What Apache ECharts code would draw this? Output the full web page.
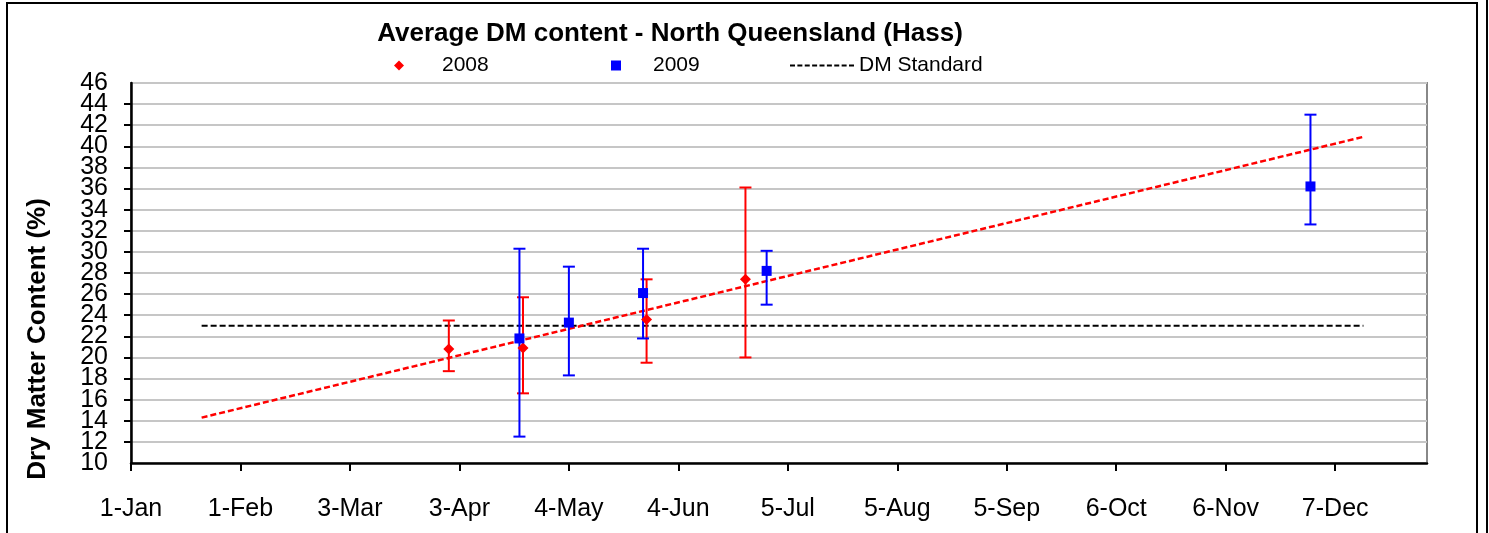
<!DOCTYPE html>
<html>
<head>
<meta charset="utf-8">
<title>Average DM content - North Queensland (Hass)</title>
<script src="https://cdn.jsdelivr.net/npm/echarts@6/dist/echarts.min.js"></script>
<style>
  html, body { margin: 0; padding: 0; background: #fff; }
  #chart { width: 1489px; height: 533px; }
</style>
</head>
<body>
<div id="chart"></div>
<script>
// day of year (2008, leap year) at which each tick label sits
const tickDays = [0, 31, 62, 93, 124, 155, 186, 217, 248, 279, 310, 341]
const tickLabels = ['1-Jan', '1-Feb', '3-Mar', '3-Apr', '4-May', '4-Jun', '5-Jul', '5-Aug', '5-Sep', '6-Oct', '6-Nov', '7-Dec']

// 2008 averages (day of year, DM %) with error bar ends
const days2008 = [90, 111, 146, 174]
const dm2008 = [20.8, 20.9, 23.6, 27.4]
const low2008 = [18.7, 16.6, 19.5, 20.0]
const high2008 = [23.5, 25.7, 27.4, 36.1]

// 2009 averages
const days2009 = [110, 124, 145, 180, 334]
const dm2009 = [21.8, 23.3, 26.1, 28.2, 36.2]
const low2009 = [12.5, 18.3, 21.8, 25.0, 32.6]
const high2009 = [30.3, 28.6, 30.3, 30.1, 43.0]

// trend line (2008) and DM standard, endpoints only
const trendDays = [20, 349]
const trendDM = [14.3, 40.9]
const standardDays = [20, 349]
const standardDM = [23, 23]

const yMin = 10
const yMax = 46

const font = 'Liberation Sans, Arial, sans-serif'
const chart = echarts.init(document.getElementById('chart'))

const pairs = (xs, ys) => xs.map((x, i) => [x, ys[i]])
const errData = (xs, lo, hi) => xs.map((x, i) => [x, lo[i], hi[i]])

const errorBars = (color) => (params, api) => {
  const x = api.value(0)
  const lo = api.coord([x, api.value(1)])
  const hi = api.coord([x, api.value(2)])
  const half = 6
  const style = { stroke: color, lineWidth: 2 }
  return {
    type: 'group',
    children: [
      { type: 'line', shape: { x1: lo[0], y1: lo[1], x2: hi[0], y2: hi[1] }, style },
      { type: 'line', shape: { x1: hi[0] - half, y1: hi[1], x2: hi[0] + half, y2: hi[1] }, style },
      { type: 'line', shape: { x1: lo[0] - half, y1: lo[1], x2: lo[0] + half, y2: lo[1] }, style },
    ],
  }
}

const legendText = { fontFamily: font, fontSize: 21, color: '#000' }
const yLabel = { margin: 23, fontFamily: font, fontSize: 25, color: '#000' }
// short dashes, like the legend sample of the reference
const dashIcon = 'path://M0 0h5v2h-5z M7.4 0h5v2h-5z M14.8 0h5v2h-5z M22.2 0h5v2h-5z M29.6 0h5v2h-5z M37 0h5v2h-5z M44.4 0h5v2h-5z M51.8 0h5v2h-5z M59.2 0h5v2h-5z'

const option = {
  animation: false,
  backgroundColor: '#fff',
  title: {
    text: 'Average DM content - North Queensland (Hass)',
    left: 665,
    textAlign: 'center',
    top: 16,
    textStyle: { fontFamily: font, fontSize: 26, fontWeight: 'bold', color: '#000' },
  },
  legend: [
    {
      data: ['2008'], left: 389, top: 50, itemWidth: 10, itemHeight: 10,
      textStyle: { ...legendText, padding: [0, 0, 0, 33] },
    },
    {
      data: ['2009'], left: 606, top: 50, itemWidth: 10, itemHeight: 10,
      textStyle: { ...legendText, padding: [0, 0, 0, 27] },
    },
    {
      data: [{ name: 'DM Standard', icon: dashIcon }], left: 785, top: 50, itemWidth: 64, itemHeight: 2,
      textStyle: { ...legendText },
    },
  ],
  grid: {
    left: 131, right: 62, top: 83, bottom: 70,
    show: true, borderColor: '#888', borderWidth: 2, backgroundColor: '#fff',
  },
  xAxis: {
    type: 'value',
    min: 0,
    max: 367,
    interval: 31,
    axisLine: { lineStyle: { color: '#000', width: 2.5 } },
    axisTick: { show: true, length: 8, lineStyle: { color: '#000', width: 2 } },
    axisLabel: {
      showMaxLabel: false,
      margin: 34,
      fontFamily: font, fontSize: 25, color: '#000',
      formatter: (v) => {
        const i = tickDays.indexOf(v)
        return i >= 0 ? tickLabels[i] : ''
      },
    },
    splitLine: { show: false },
  },
  yAxis: [
    {
      // main axis: grid lines, ticks and the inner labels 12..44
      type: 'value',
      min: yMin,
      max: yMax,
      interval: 2,
      axisLine: { show: true, lineStyle: { color: '#000', width: 2.5 } },
      axisTick: { show: true, inside: false, length: 7, lineStyle: { color: '#000', width: 2 } },
      axisLabel: { ...yLabel, showMinLabel: false, showMaxLabel: false },
      splitLine: { lineStyle: { color: '#c6c6c6', width: 2 } },
    },
    {
      // same scale, only carries the 10 and 46 end labels (the packed labels overlap)
      type: 'value',
      position: 'left',
      min: yMin,
      max: yMax,
      interval: yMax - yMin,
      axisLine: { show: false },
      axisTick: { show: false },
      axisLabel: { ...yLabel },
      splitLine: { show: false },
    },
  ],
  graphic: [
    {
      type: 'rect',
      shape: { x: 7, y: 3, width: 1470, height: 560 },
      style: { fill: 'none', stroke: '#000', lineWidth: 2 },
      silent: true,
    },
    {
      type: 'line',
      shape: { x1: 1487, y1: 0, x2: 1487, y2: 533 },
      style: { stroke: '#000', lineWidth: 2 },
      silent: true,
    },
    {
      type: 'text',
      x: 38, y: 339, rotation: Math.PI / 2,
      style: {
        text: 'Dry Matter Content (%)',
        fontFamily: font, fontSize: 26, fontWeight: 'bold', fill: '#000',
        align: 'center', verticalAlign: 'middle',
      },
      silent: true,
    },
  ],
  series: [
    {
      name: 'DM Standard',
      type: 'line',
      data: pairs(standardDays, standardDM),
      symbol: 'none',
      lineStyle: { color: '#000', width: 2, type: [6, 3] },
      itemStyle: { color: '#000' },
      z: 2,
    },
    {
      name: 'trend',
      type: 'line',
      data: pairs(trendDays, trendDM),
      symbol: 'none',
      lineStyle: { color: '#f00', width: 2.5, type: [6, 3] },
      z: 3,
    },
    {
      name: 'err2008',
      type: 'custom',
      renderItem: errorBars('#f00'),
      data: errData(days2008, low2008, high2008),
      encode: { x: 0, y: [1, 2] },
      z: 4,
    },
    {
      name: 'err2009',
      type: 'custom',
      renderItem: errorBars('#00f'),
      data: errData(days2009, low2009, high2009),
      encode: { x: 0, y: [1, 2] },
      z: 4,
    },
    {
      name: '2008',
      type: 'scatter',
      data: pairs(days2008, dm2008),
      symbol: 'diamond',
      symbolSize: 11,
      itemStyle: { color: '#f00', opacity: 1 },
      z: 5,
    },
    {
      name: '2009',
      type: 'scatter',
      data: pairs(days2009, dm2009),
      symbol: 'rect',
      symbolSize: 10,
      itemStyle: { color: '#00f', opacity: 1 },
      z: 5,
    },
  ],
}

chart.setOption(option)
window.addEventListener('resize', () => chart.resize())
</script>
</body>
</html>
